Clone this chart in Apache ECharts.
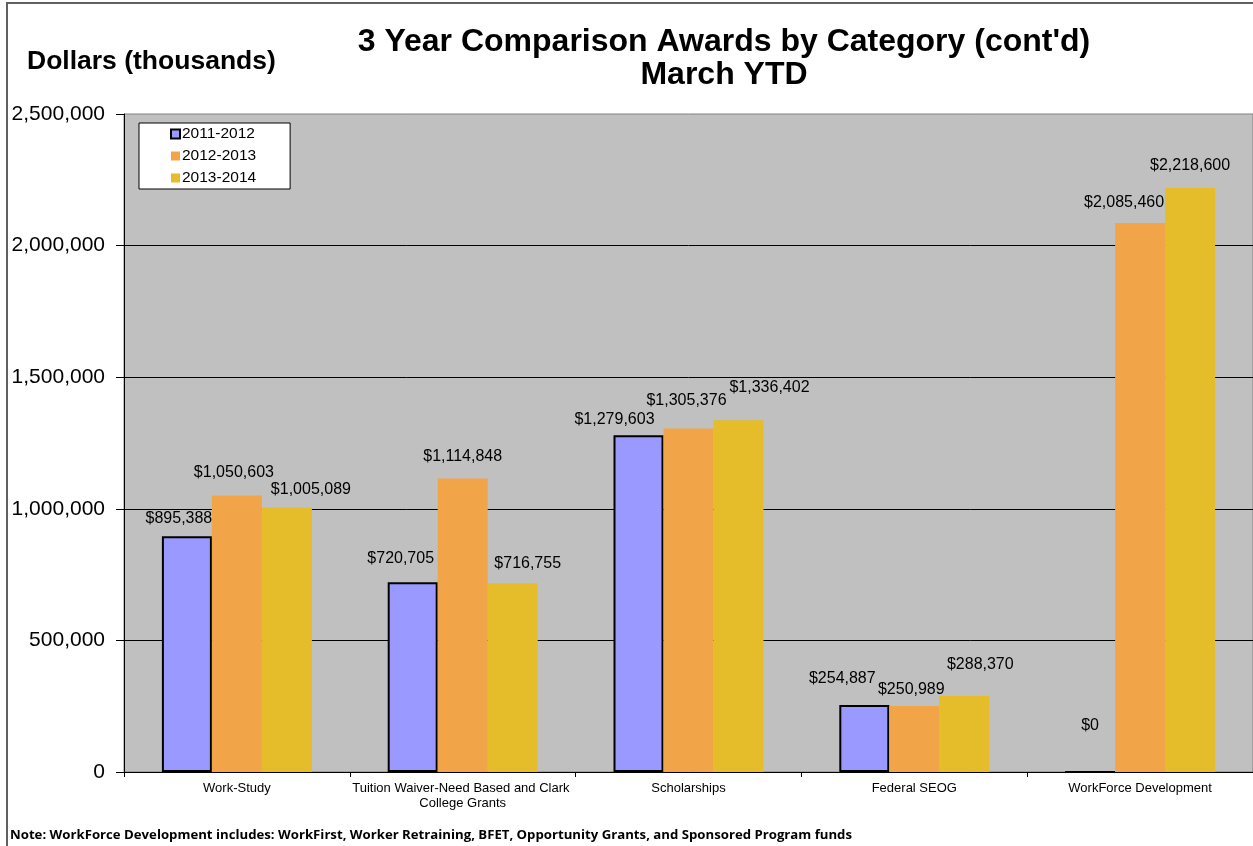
<!DOCTYPE html>
<html>
<head>
<meta charset="utf-8">
<title>3 Year Comparison Awards by Category</title>
<script src="https://cdn.jsdelivr.net/npm/echarts@6/dist/echarts.min.js"></script>
<style>
  html, body { margin: 0; padding: 0; background: #ffffff; overflow: hidden; }
  #chart { width: 1253px; height: 846px; }
</style>
</head>
<body>
<div id="chart"></div>
<script>
// Award categories along the x axis
const categories = [
  'Work-Study',
  'Tuition Waiver-Need Based and Clark College Grants',
  'Scholarships',
  'Federal SEOG',
  'WorkForce Development'
];

// Fiscal-year series names
const yearNames = ['2011-2012', '2012-2013', '2013-2014'];

// Award dollars per category, March YTD
const awards2011 = [895388, 720705, 1279603, 254887, 0];
const awards2012 = [1050603, 1114848, 1305376, 250989, 2085460];
const awards2013 = [1005089, 716755, 1336402, 288370, 2218600];

// Value axis range
const yMin = 0;
const yMax = 2500000;
const yStep = 500000;

// Label nudges [dx, dy] per bar, so the value labels sit where they are drawn
const labelNudges = [
  [[-8, -10], [-12, -16], [-24, -8], [-22, -18], [0, -37]],
  [[-3, -15], [0, -14], [-2, -20], [-3, -8], [-16, -13]],
  [[24, -10], [15, -12], [31, -25], [16, -24], [0, -14]]
];

const FONT = "'Liberation Sans', Arial, sans-serif";
const money = v => '$' + Number(v).toLocaleString('en-US');

const seriesStyles = [
  { color: '#9999FF', borderColor: '#000000', borderWidth: 2 },
  { color: '#F2A548', borderWidth: 0 },
  { color: '#E5BD2A', borderWidth: 0 }
];

function buildSeries(name, values, idx) {
  return {
    name: name,
    type: 'bar',
    barWidth: 50,
    barGap: '0%',
    itemStyle: seriesStyles[idx],
    data: values.map((v, i) => ({
      value: v,
      label: { offset: labelNudges[idx][i] }
    })),
    label: {
      show: true,
      position: 'top',
      distance: 0,
      color: '#000000',
      fontFamily: FONT,
      fontSize: 16,
      lineHeight: 16,
      formatter: p => money(p.value)
    },
    emphasis: { disabled: true }
  };
}

const chart = echarts.init(document.getElementById('chart'), null, { renderer: 'canvas' });

chart.setOption({
  animation: false,
  backgroundColor: '#ffffff',
  title: {
    text: "3 Year Comparison Awards by Category (cont'd)\nMarch YTD",
    left: 724,
    top: 26,
    textAlign: 'center',
    padding: 0,
    textStyle: {
      fontFamily: FONT,
      fontSize: 32,
      fontWeight: 'bold',
      lineHeight: 33,
      color: '#000000'
    }
  },
  legend: {
    orient: 'vertical',
    left: 139,
    top: 123,
    backgroundColor: '#ffffff',
    borderColor: '#000000',
    borderWidth: 1,
    padding: [3, 34, 3, 31],
    itemWidth: 9,
    itemHeight: 9,
    itemGap: 6,
    icon: 'rect',
    selectedMode: false,
    textStyle: {
      fontFamily: FONT,
      fontSize: 15.5,
      lineHeight: 16,
      color: '#000000',
      padding: [0, 0, 0, -3]
    },
    data: yearNames
  },
  grid: {
    left: 124,
    right: 0,
    top: 114,
    bottom: 74,
    containLabel: false,
    outerBoundsMode: 'none',
    show: true,
    backgroundColor: '#C0C0C0',
    borderColor: '#808080',
    borderWidth: 1
  },
  xAxis: {
    type: 'category',
    data: categories,
    axisLine: { show: true, lineStyle: { color: '#000000', width: 1 } },
    axisTick: { show: true, length: 5, lineStyle: { color: '#000000' } },
    axisLabel: {
      interval: 0,
      margin: 9,
      color: '#000000',
      fontFamily: FONT,
      fontSize: 13,
      lineHeight: 15,
      width: 230,
      overflow: 'break'
    }
  },
  yAxis: {
    type: 'value',
    min: yMin,
    max: yMax,
    interval: yStep,
    axisLine: { show: true, lineStyle: { color: '#000000', width: 1 } },
    axisTick: { show: true, length: 8, lineStyle: { color: '#000000' } },
    axisLabel: {
      margin: 19,
      color: '#000000',
      fontFamily: FONT,
      fontSize: 21,
      formatter: v => Number(v).toLocaleString('en-US')
    },
    splitLine: {
      show: true,
      showMaxLine: false,
      lineStyle: { color: '#000000', width: 1 }
    }
  },
  series: [
    buildSeries(yearNames[0], awards2011, 0),
    buildSeries(yearNames[1], awards2012, 1),
    buildSeries(yearNames[2], awards2013, 2)
  ],
  graphic: [
    {
      type: 'rect',
      z: 100,
      silent: true,
      shape: { x: 7, y: 3, width: 1270, height: 870 },
      style: { fill: 'none', stroke: '#606060', lineWidth: 2 }
    },
    {
      type: 'text',
      x: 27,
      y: 48,
      silent: true,
      style: {
        text: 'Dollars (thousands)',
        fontFamily: FONT,
        fontSize: 26.5,
        fontWeight: 'bold',
        fill: '#000000'
      }
    },
    {
      type: 'text',
      x: 10,
      y: 829,
      silent: true,
      style: {
        text: 'Note: WorkForce Development includes: WorkFirst, Worker Retraining, BFET, Opportunity Grants, and Sponsored Program funds',
        fontFamily: "'Open Sans', Lato, sans-serif",
        fontSize: 13.2,
        fontWeight: 'bold',
        fill: '#000000'
      }
    }
  ]
});
</script>
</body>
</html>
